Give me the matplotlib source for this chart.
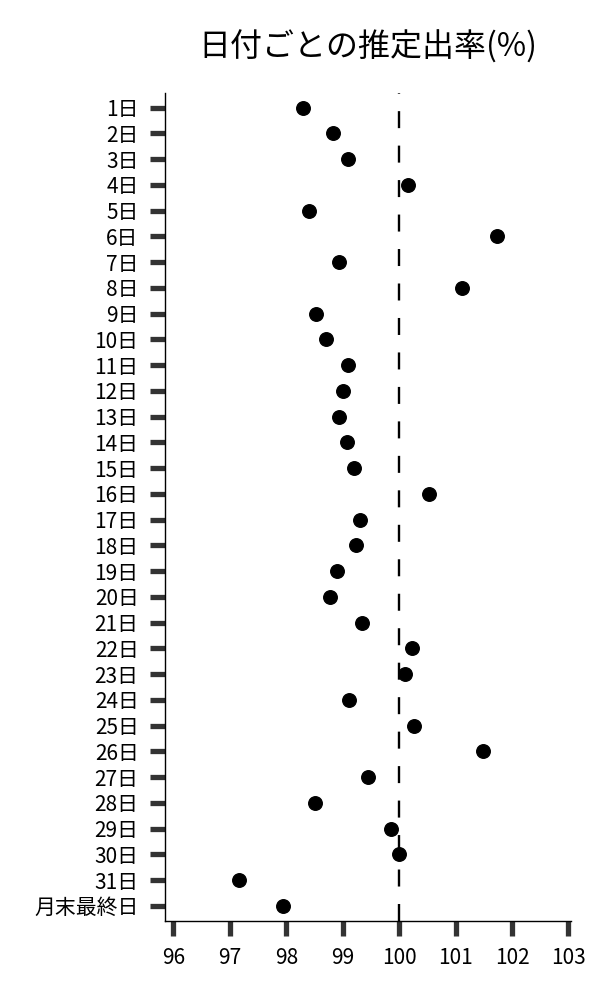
import matplotlib
matplotlib.use("Agg")
import matplotlib.pyplot as plt

plt.rcParams["font.family"] = ["Noto Sans CJK JP", "DejaVu Sans"]

# 日付ラベルと推定出率(%)
days = [f"{d}日" for d in range(1, 32)] + ["月末最終日"]
rates = [
    98.29, 98.83, 99.10, 100.15, 98.40, 101.74, 98.94, 101.12, 98.53, 98.70,
    99.09, 99.00, 98.93, 99.08, 99.20, 100.53, 99.31, 99.23, 98.89, 98.77,
    99.34, 100.23, 100.11, 99.12, 100.27, 101.49, 99.45, 98.50, 99.85, 100.00,
    97.17, 97.94,
]
x_ticks = [96, 97, 98, 99, 100, 101, 102, 103]
ref_value = 100


def plot_rate_by_day():
    fig = plt.figure(figsize=(6, 10), dpi=100)
    ax = fig.add_axes([0.275, 0.0793, 0.677, 0.828])

    ypos = list(range(len(days)))
    y_bottom, y_top = len(days) - 0.42, -0.58

    ax.scatter(rates, ypos, s=95, color="black", zorder=3)
    # drawn upward from the bottom so the dash pattern starts there
    ax.plot([ref_value, ref_value], [y_bottom, y_top], color="black",
            linewidth=1.7, dashes=(7.2, 7.4), zorder=2)

    ax.set_yticks(ypos)
    ax.set_yticklabels(days)
    ax.set_xticks(x_ticks)
    ax.set_xticklabels([str(t) for t in x_ticks])
    ax.set_xlim(95.85, 103.05)
    ax.set_ylim(y_bottom, y_top)

    for side in ["top", "right"]:
        ax.spines[side].set_visible(False)
    for side in ["left", "bottom"]:
        ax.spines[side].set_linewidth(1.0)

    ax.tick_params(axis="both", length=10.5, width=3.8, color="#333333",
                   labelsize=15, pad=8.5)

    ax.set_title("日付ごとの推定出率(%)", fontsize=23, pad=26)

    fig.savefig("out.png", dpi=100)


if __name__ == "__main__":
    plot_rate_by_day()
